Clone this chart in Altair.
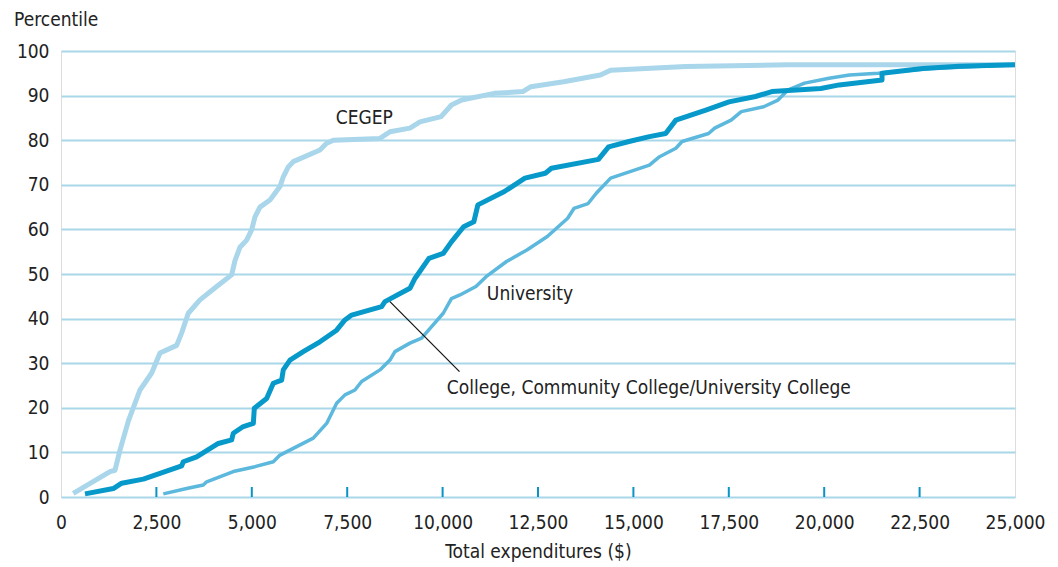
import altair as alt
import pandas as pd

# ---- data ----
cegep_x = [322, 1284, 1415, 1546, 1764, 2070, 2376, 2594, 3031, 3162, 3336, 3642, 4079, 4472,
           4559, 4690, 4865, 4996, 5083, 5214, 5476, 5738, 5825, 5956, 6087, 6786, 6961, 7136,
           8358, 8620, 9144, 9406, 9961, 10231, 10498, 11353, 12101, 12314, 13170, 14135,
           14403, 16375, 19047, 25000]
cegep_y = [0.8, 5.7, 6.0, 10.5, 17.0, 24.0, 27.8, 32.3, 34.0, 36.8, 41.2, 44.2, 47.2, 49.8,
           53.0, 56.0, 57.6, 59.9, 62.8, 65.0, 66.6, 69.6, 71.8, 74.0, 75.2, 77.8, 79.3, 80.0,
           80.4, 81.9, 82.7, 84.1, 85.3, 87.9, 89.0, 90.5, 90.9, 92.0, 93.1, 94.6,
           95.7, 96.5, 96.9, 96.9]

college_x = [629, 1371, 1590, 2157, 2594, 3162, 3205, 3555, 4122, 4472, 4515, 4777, 5040, 5066,
             5389, 5564, 5782, 5825, 6000, 6349, 6786, 7223, 7441, 7616, 8402, 8489, 9144, 9275,
             9642, 10016, 10231, 10551, 10818, 10925, 11620, 12157, 12692, 12852, 14083, 14350,
             14884, 15419, 15846, 16113, 16917, 17504, 18201, 18628, 19912, 20394, 21515, 21515,
             22584, 23548, 25000]
college_y = [0.7, 1.9, 3.1, 4.0, 5.3, 7.0, 7.9, 9.0, 12.0, 12.8, 14.3, 15.8, 16.5, 19.9,
             22.1, 25.5, 26.2, 28.5, 30.7, 32.6, 34.8, 37.4, 39.7, 40.8, 42.7, 43.8, 46.8, 49.0,
             53.5, 54.6, 57.2, 60.6, 61.7, 65.5, 68.5, 71.5, 72.6, 73.7, 75.7, 78.5,
             79.7, 80.8, 81.5, 84.5, 86.8, 88.6, 89.8, 90.9, 91.6, 92.4, 93.5, 95.0,
             96.1, 96.6, 96.9]

univ_x = [2681, 3293, 3729, 3817, 4515, 5083, 5564, 5738, 6087, 6611, 6961, 7223, 7441, 7703,
          7878, 8358, 8620, 8751, 9144, 9450, 9712, 10017, 10231, 10454, 10873, 11140, 11675,
          12209, 12744, 13278, 13441, 13813, 14027, 14403, 15419, 15686, 16113, 16275, 16970,
          17130, 17560, 17827, 18414, 18789, 19057, 19485, 20127, 20661, 21410, 22799, 25000]
univ_y = [0.7, 1.9, 2.7, 3.4, 5.7, 6.8, 7.9, 9.4, 10.9, 13.2, 16.5, 21.0, 22.9, 24.0,
          25.9, 28.5, 30.7, 32.6, 34.5, 35.6, 38.2, 41.2, 44.5, 45.3, 47.2, 49.4, 52.8,
          55.4, 58.4, 62.5, 64.7, 65.8, 68.1, 71.5, 74.4, 76.3, 78.2, 79.7, 81.5,
          82.7, 84.5, 86.4, 87.5, 89.0, 91.3, 92.8, 93.9, 94.6, 95.0, 96.1, 96.9]

x_ticks = [0, 2500, 5000, 7500, 10000, 12500, 15000, 17500, 20000, 22500, 25000]
y_ticks = [0, 10, 20, 30, 40, 50, 60, 70, 80, 90, 100]

label_text = ["CEGEP", "University", "College, Community College/University College"]
label_x = [7200, 11160, 10110]
label_y = [85.0, 45.5, 24.5]

leader_x = [8620]
leader_y = [43.8]
leader_x2 = [10443]
leader_y2 = [28.1]

FONT = "'Liberation Sans Narrow', 'DejaVu Sans Condensed', Roboto, sans-serif"
FRAME = "#0a93c6"
GRID = "#a9d7ea"
TXT = "#222"

def df(xs, ys):
    return pd.DataFrame({"x": xs, "y": ys, "i": range(len(xs))})

xs = alt.Scale(domain=[0, 25000], nice=False)
ys = alt.Scale(domain=[0, 100], nice=False)

base_x = alt.X("x:Q", scale=xs,
               axis=alt.Axis(title="Total expenditures ($)", values=x_ticks, format=",d",
                             grid=False, ticks=False, domain=False, labelPadding=16,
                             labelFontSize=19, labelColor=TXT, labelFont=FONT,
                             titleFont=FONT, titleFontSize=19, titleFontWeight="normal",
                             titleColor=TXT, titlePadding=10, labelFlush=False))
base_y = alt.Y("y:Q", scale=ys,
               axis=alt.Axis(title=None, values=y_ticks, grid=True, gridColor=GRID,
                             gridWidth=2, ticks=False, domain=False, labelPadding=12,
                             labelFontSize=19, labelColor=TXT, labelFont=FONT))

grid = alt.Chart(pd.DataFrame({"x": [0], "y": [0]})).mark_point(opacity=0).encode(x=base_x, y=base_y)

def line(xv, yv, color, width):
    return alt.Chart(df(xv, yv)).mark_line(color=color, strokeWidth=width, strokeJoin="round").encode(
        x=alt.X("x:Q", scale=xs), y=alt.Y("y:Q", scale=ys), order="i:Q")

l_cegep = line(cegep_x, cegep_y, "#a9d6ea", 5)
l_univ = line(univ_x, univ_y, "#5cb8dc", 3.5)
l_coll = line(college_x, college_y, "#0799c9", 5)

ticks_df = pd.DataFrame({"x": x_ticks[1:-1]})
tick_marks = alt.Chart(ticks_df).mark_rule(color=FRAME, strokeWidth=2).encode(
    x=alt.X("x:Q", scale=xs), y=alt.value(446), y2=alt.value(436))

leader = alt.Chart(pd.DataFrame({"x": leader_x, "y": leader_y, "x2": leader_x2, "y2": leader_y2})).mark_rule(
    color="#111", strokeWidth=1.2).encode(
    x=alt.X("x:Q", scale=xs), y=alt.Y("y:Q", scale=ys), x2="x2:Q", y2="y2:Q")

labels = alt.Chart(pd.DataFrame({"t": label_text, "x": label_x, "y": label_y})).mark_text(
    align="left", baseline="middle", font=FONT, fontSize=19, color=TXT).encode(
    x=alt.X("x:Q", scale=xs), y=alt.Y("y:Q", scale=ys), text="t:N")

ylabel = alt.Chart(pd.DataFrame({"t": ["Percentile"]})).mark_text(
    align="left", baseline="middle", font=FONT, fontSize=19, color=TXT).encode(
    x=alt.value(-47), y=alt.value(-31), text="t:N")

chart = alt.layer(grid, l_cegep, l_univ, l_coll, tick_marks, leader, labels, ylabel).properties(
    width=954, height=446,
    autosize=alt.AutoSizeParams(type="none"),
    padding={"left": 53, "top": 43, "right": 30, "bottom": 70},
).configure_view(stroke=FRAME, strokeWidth=2.5).configure(background="white")

chart.save("out.html", embed_options={"renderer": "svg", "actions": False})
